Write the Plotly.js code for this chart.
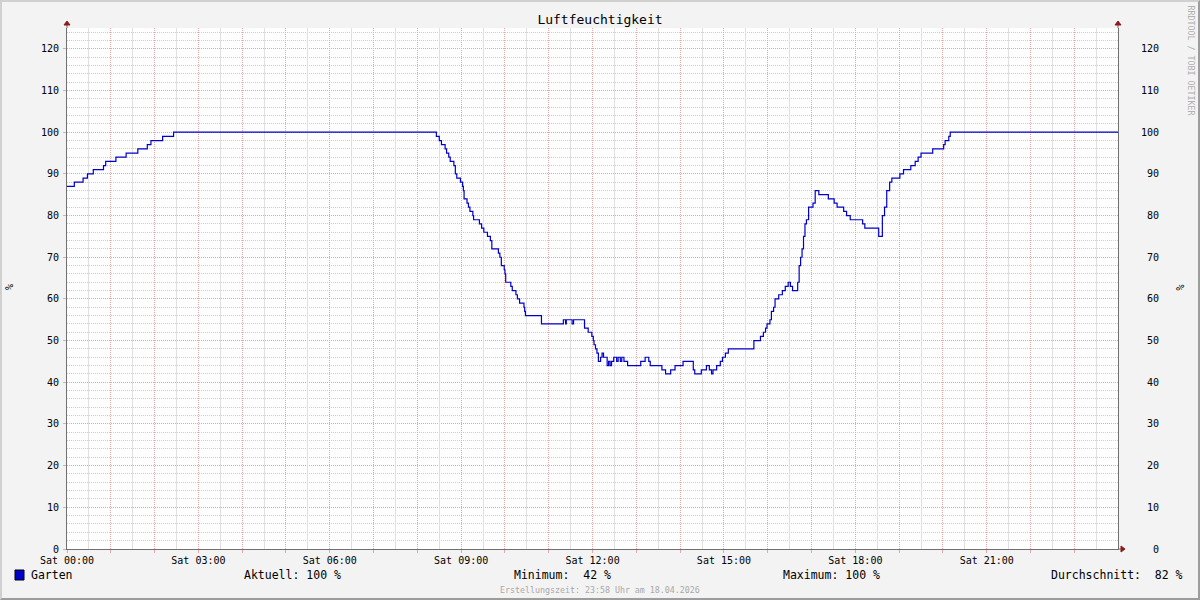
<!DOCTYPE html>
<html>
<head>
<meta charset="utf-8">
<script src="https://cdn.plot.ly/plotly-3.0.1.min.js"></script>
<style>
  html, body { margin: 0; padding: 0; background: #f3f3f3; }
  #wrap { position: relative; width: 1200px; height: 600px; }
  #chart { position: absolute; left: 0; top: 0; width: 1200px; height: 600px; }
  #frame { position: absolute; left: 0; top: 0; width: 1200px; height: 600px; box-sizing: border-box;
           border-top: 2px solid #d0d0d0; border-left: 2px solid #d0d0d0;
           border-right: 2px solid #9c9c9c; border-bottom: 2px solid #9c9c9c; pointer-events: none; }
</style>
</head>
<body>
<div id="wrap"><div id="chart"></div><div id="frame"></div></div>
<script>
// ---------- data ----------
const chartTitle = 'Luftfeuchtigkeit';
const seriesName = 'Garten';
const day = '2026-04-18';
const dayEnd = '2026-04-18 23:59:50';

// change points of the stepped humidity series (HH:MM) and their values (%)
const times = [
  '00:00','00:10','00:22','00:28','00:36','00:50','00:53','01:07','01:21','01:37','01:50','01:55','02:11','02:26',
  '08:26','08:30','08:33','08:38','08:40','08:43','08:45','08:50','08:52','08:54','08:59','09:02','09:03','09:04',
  '09:08','09:10','09:12','09:16','09:17','09:25','09:28','09:31','09:36','09:40','09:42','09:51','09:53','09:55',
  '09:59','10:00','10:01','10:08','10:10','10:15','10:17','10:20','10:26','10:27','10:28','10:50','11:20','11:23',
  '11:24','11:32','11:34','11:49','11:54','11:59','12:01','12:02','12:04','12:06','12:08','12:11','12:13','12:15',
  '12:20','12:22','12:24','12:26','12:29','12:33','12:35','12:38','12:40','12:43','12:48','13:06','13:12','13:17',
  '13:19','13:35','13:40','13:47','13:53','14:04','14:18','14:20','14:29','14:36','14:40','14:43','14:45','14:50',
  '14:55','14:58','15:02','15:06','15:41','15:50','15:54','15:57','15:59','16:03','16:05','16:08','16:10','16:15',
  '16:20','16:24','16:28','16:31','16:34','16:41','16:43','16:45','16:47','16:49','16:51','16:53','16:56','17:02',
  '17:05','17:10','17:23','17:31','17:35','17:44','17:48','17:53','18:10','18:13','18:32','18:37','18:40','18:43',
  '18:47','18:50','19:01','19:06','19:16','19:22','19:26','19:30','19:46','20:01','20:03','20:08','20:10','24:00'
];
const humidity = [
  87, 88, 89, 90, 91, 92, 93, 94, 95, 96, 97, 98, 99, 100,
  99, 98, 97, 96, 95, 94, 93, 92, 90, 89, 88, 87, 86, 84,
  83, 82, 81, 80, 79, 78, 77, 76, 75, 74, 72, 71, 70, 68,
  67, 66, 64, 63, 62, 61, 60, 59, 58, 57, 56, 54, 55, 54,
  55, 54, 55, 53, 52, 51, 50, 49, 48, 47, 45, 46, 47, 46,
  44, 45, 44, 45, 46, 45, 46, 45, 46, 45, 44, 45, 46, 45,
  44, 43, 42, 43, 44, 45, 43, 42, 43, 44, 43, 42, 43, 44,
  45, 46, 47, 48, 50, 51, 52, 53, 54, 55, 57, 58, 60, 61,
  62, 63, 64, 63, 62, 64, 68, 70, 72, 75, 78, 79, 82, 83,
  86, 85, 84, 83, 82, 81, 80, 79, 78, 77, 75, 80, 82, 86,
  88, 89, 90, 91, 92, 93, 94, 95, 96, 97, 98, 99, 100, 100
];

const xTickFormat = '%a %H:%M';   // gives "Sat 00:00", "Sat 03:00", ...
const yTickValues = [0, 10, 20, 30, 40, 50, 60, 70, 80, 90, 100, 110, 120];
const yUnit = '%';
const statLabels = ['Aktuell:', 'Minimum:', 'Maximum:', 'Durchschnitt:'];
const statValues = [100, 42, 100, 82];
const creditText = 'RRDTOOL / TOBI OETIKER';
const footerText = 'Erstellungszeit: 23:58 Uhr am 18.04.2026';

// ---------- build ----------
const toDate = t => t === '24:00' ? dayEnd : day + ' ' + t;
const xs = times.map(toDate);

const yText = yTickValues.map(String);
const yTextRight = yTickValues.map(v => String(v).padStart(3, '\u00a0'));
const yMinorVals = [];
for (let v = 2; v <= 124; v += 2) if (v % 10 !== 0) yMinorVals.push(v);

const FONT = 'DejaVu Sans Mono, monospace';
const RED_GRID = '#e9a6a6';
const GREY_GRID = '#cdcdcd';
const AXIS = '#707070';
const ARROW = '#8e1b1b';
const DOTS = '1px,1px';

// plot area in pixels
const L = 67, R = 1118, T = 28, B = 549;
const px = x => (x - L) / (R - L);
const py = y => (B - y) / (B - T);

const fmt3 = v => String(v).padStart(3, ' ');

const traces = [
  {
    x: xs, y: humidity, type: 'scatter', mode: 'lines', name: seriesName,
    line: { color: '#0000cc', width: 1.2, shape: 'hv' }, hoverinfo: 'x+y'
  },
  {
    x: [xs[0], xs[xs.length - 1]], y: [humidity[0], humidity[humidity.length - 1]],
    type: 'scatter', mode: 'lines', xaxis: 'x2', yaxis: 'y2', showlegend: false, hoverinfo: 'skip',
    line: { color: 'rgba(0,0,0,0)', width: 0 }
  }
];

const annotations = [
  { text: seriesName, x: px(30), y: py(575), xanchor: 'left', yanchor: 'middle' },
  { text: statLabels[0] + ' ' + fmt3(statValues[0]) + ' %', x: px(243), y: py(575), xanchor: 'left', yanchor: 'middle' },
  { text: statLabels[1] + ' ' + fmt3(statValues[1]) + ' %', x: px(513), y: py(575), xanchor: 'left', yanchor: 'middle' },
  { text: statLabels[2] + ' ' + fmt3(statValues[2]) + ' %', x: px(782), y: py(575), xanchor: 'left', yanchor: 'middle' },
  { text: statLabels[3] + ' ' + fmt3(statValues[3]) + ' %', x: px(1184), y: py(575), xanchor: 'right', yanchor: 'middle' }
].map(a => Object.assign(a, { xref: 'paper', yref: 'paper', showarrow: false, borderpad: 0,
  font: { family: FONT, size: 11.5, color: '#000' } }));

annotations.push(
  { text: footerText, x: px(600), y: py(589.5), xref: 'paper', yref: 'paper', showarrow: false, borderpad: 0,
    xanchor: 'center', yanchor: 'middle', font: { family: FONT, size: 8.3, color: '#a8a8a8' } },
  { text: creditText, x: px(1190.5), y: py(60), xref: 'paper', yref: 'paper', showarrow: false, borderpad: 0,
    textangle: 90, xanchor: 'center', yanchor: 'middle', font: { family: FONT, size: 8.3, color: '#b0b0b0' } },
  { text: yUnit, x: px(9.5), y: py(287.5), xref: 'paper', yref: 'paper', showarrow: false, borderpad: 0,
    textangle: -90, xanchor: 'center', yanchor: 'middle', font: { family: FONT, size: 10, color: '#000' } },
  { text: yUnit, x: px(1180), y: py(287.5), xref: 'paper', yref: 'paper', showarrow: false, borderpad: 0,
    textangle: -90, xanchor: 'center', yanchor: 'middle', font: { family: FONT, size: 10, color: '#000' } }
);

const pixelShape = (xa, ya, path) => ({
  type: 'path', xref: 'paper', yref: 'paper', xsizemode: 'pixel', ysizemode: 'pixel',
  xanchor: xa, yanchor: ya, path: path, fillcolor: ARROW, line: { color: ARROW, width: 1 }
});

const shapes = [
  // legend colour box
  { type: 'rect', xref: 'paper', yref: 'paper', x0: px(15), x1: px(24), y0: py(580), y1: py(570),
    fillcolor: '#0000cc', line: { color: '#000', width: 1 } },
  // axis extension lines + arrows
  { type: 'line', xref: 'paper', yref: 'paper', xsizemode: 'pixel', ysizemode: 'pixel', xanchor: 0, yanchor: 1,
    x0: 0, x1: 0, y0: 0, y1: 3, line: { color: AXIS, width: 1 } },
  { type: 'line', xref: 'paper', yref: 'paper', xsizemode: 'pixel', ysizemode: 'pixel', xanchor: 1, yanchor: 1,
    x0: 0, x1: 0, y0: 0, y1: 3, line: { color: AXIS, width: 1 } },
  { type: 'line', xref: 'paper', yref: 'paper', xsizemode: 'pixel', ysizemode: 'pixel', xanchor: 1, yanchor: 0,
    x0: 0, x1: 3, y0: 0, y1: 0, line: { color: AXIS, width: 1 } },
  pixelShape(0, 1, 'M -3,3 L 3,3 L 0,7 Z'),
  pixelShape(1, 1, 'M -3,3 L 3,3 L 0,7 Z'),
  pixelShape(1, 0, 'M 3,-3 L 3,3 L 7,0 Z')
];

const layout = {
  width: 1200, height: 600,
  margin: { l: L, r: 1200 - R, t: T, b: 600 - B, pad: 0 },
  paper_bgcolor: '#f3f3f3', plot_bgcolor: '#ffffff',
  showlegend: false,
  title: { text: chartTitle, x: 0.5, xref: 'container', y: 1 - 19 / 600, yref: 'container',
           xanchor: 'center', yanchor: 'middle', font: { family: FONT, size: 13, color: '#000' } },
  font: { family: FONT, size: 10, color: '#000' },
  xaxis: {
    type: 'date', range: [day + ' 00:00', dayEnd],
    tickmode: 'linear', tick0: day + ' 00:00', dtick: 3600000, ticklabelstep: 3,
    tickformat: xTickFormat,
    tickfont: { family: FONT, size: 10, color: '#000' },
    ticks: 'outside', ticklen: 3, tickcolor: RED_GRID, tickwidth: 1, ticklabelstandoff: -1,
    showgrid: true, gridcolor: RED_GRID, griddash: DOTS, gridwidth: 1,
    showline: true, linecolor: AXIS, linewidth: 1, zeroline: false, fixedrange: true
  },
  // half-hour grey grid
  xaxis2: {
    type: 'date', overlaying: 'x', anchor: 'y', range: [day + ' 00:00', dayEnd],
    tickmode: 'linear', tick0: day + ' 00:30', dtick: 3600000,
    showticklabels: false, ticks: '',
    showgrid: true, gridcolor: '#e0e0e0', griddash: 'solid', gridwidth: 1,
    showline: false, zeroline: false, fixedrange: true
  },
  yaxis: {
    range: [0, 125], tickmode: 'array', tickvals: yTickValues, ticktext: yText,
    tickfont: { family: FONT, size: 10, color: '#000' },
    ticks: 'outside', ticklen: 3, tickcolor: RED_GRID, ticklabelstandoff: 2,
    showgrid: true, gridcolor: RED_GRID, griddash: DOTS, gridwidth: 1,
    minor: { tickmode: 'array', tickvals: yMinorVals, showgrid: true,
             gridcolor: GREY_GRID, griddash: DOTS, gridwidth: 1, ticks: '' },
    showline: true, linecolor: AXIS, linewidth: 1, zeroline: false, fixedrange: true
  },
  yaxis2: {
    overlaying: 'y', side: 'right', anchor: 'x2',
    range: [0, 125], tickmode: 'array', tickvals: yTickValues, ticktext: yTextRight,
    tickfont: { family: FONT, size: 10, color: '#000' },
    ticks: '', ticklabelstandoff: 20,
    showgrid: false, showline: true, linecolor: AXIS, linewidth: 1, zeroline: false, fixedrange: true
  },
  annotations: annotations,
  shapes: shapes
};

Plotly.newPlot('chart', traces, layout, { displayModeBar: false, staticPlot: true });
</script>
</body>
</html>
